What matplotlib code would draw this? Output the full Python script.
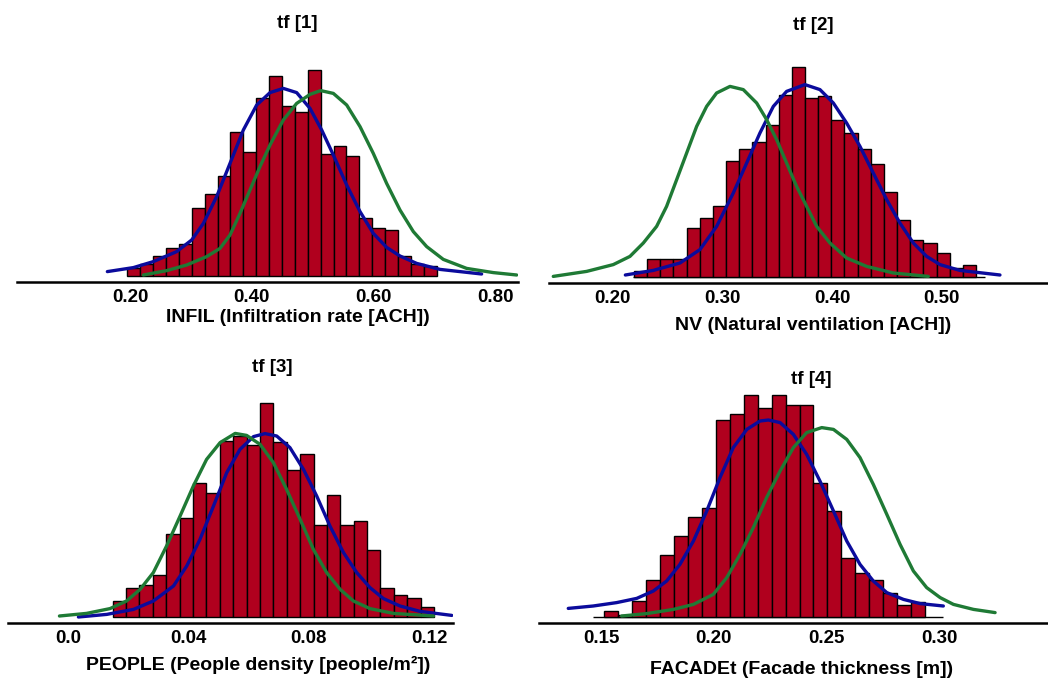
import numpy as np
import matplotlib
matplotlib.use("Agg")
import matplotlib.pyplot as plt

plt.rcParams['font.family'] = ['Liberation Sans', 'DejaVu Sans']
plt.rcParams['font.weight'] = 'bold'

# ---------------- data ----------------
titles = ["tf [1]", "tf [2]", "tf [3]", "tf [4]"]
xlabels = ["INFIL (Infiltration rate [ACH])",
           "NV (Natural ventilation [ACH])",
           "PEOPLE (People density [people/m\u00b2])",
           "FACADEt (Facade thickness [m])"]
tick_values = [[0.20, 0.40, 0.60, 0.80],
               [0.20, 0.30, 0.40, 0.50],
               [0.00, 0.04, 0.08, 0.12],
               [0.15, 0.20, 0.25, 0.30]]
tick_labels = [["0.20", "0.40", "0.60", "0.80"],
               ["0.20", "0.30", "0.40", "0.50"],
               ["0.0", "0.04", "0.08", "0.12"],
               ["0.15", "0.20", "0.25", "0.30"]]

# histogram bins: first edge, bin width, counts
bin_start = [0.1956, 0.2193, 0.0148, 0.1513]
bin_width = [0.02115, 0.01199, 0.00445, 0.006195]
counts1 = [4, 6, 10, 14, 16, 34, 41, 50, 72, 62, 89, 100, 85, 82, 103, 61, 65, 60, 29, 24, 23, 10, 6, 5]
counts2 = [2.8, 9.2, 9.2, 9.2, 24.7, 29.5, 35.7, 57.8, 64.2, 67.3, 76.2, 90.8, 104.8, 89.3, 90.5,
           78.3, 72.0, 64.0, 56.5, 42.3, 28.3, 18.7, 17.0, 12.0, 4.5, 6.0]
counts3 = [8.0, 14.5, 15.8, 20.8, 41.7, 49.3, 67.2, 62.2, 87.8, 90.7, 86.2, 107.2, 87.7, 73.5, 81.5,
           46.2, 60.8, 46.2, 48.0, 33.5, 14.5, 11.2, 9.5, 5.0]
counts4 = [3.0, 1.0, 8.0, 18.5, 31.0, 40.5, 50.0, 54.7, 98.5, 101.3, 111.0, 104.7, 111.0, 106.0, 106.0,
           66.8, 53.0, 29.7, 21.8, 18.5, 12.2, 6.0, 7.7]

# blue curves (posterior fit)
blue1_x = [0.1628, 0.2055, 0.2383, 0.2766, 0.3012, 0.3204, 0.3422, 0.3641, 0.3860, 0.4079, 0.4298, 0.4516,
           0.4735, 0.4954, 0.5146, 0.5337, 0.5556, 0.5775, 0.5993, 0.6212, 0.6431, 0.6705, 0.7088, 0.7771]
blue1_y = [2.2, 4.2, 7.2, 12.2, 18.0, 26.3, 39.7, 56.3, 73.0, 85.5, 91.7, 93.8,
           91.7, 83.8, 73.0, 60.5, 45.5, 32.2, 21.3, 14.3, 10.0, 6.3, 3.3, 1.0]
blue2_x = [0.2114, 0.2369, 0.2612, 0.2794, 0.2946, 0.3098, 0.3220, 0.3341, 0.3463, 0.3584, 0.3751, 0.3888,
           0.4010, 0.4131, 0.4253, 0.4374, 0.4496, 0.4617, 0.4739, 0.4861, 0.4982, 0.5164, 0.5529]
blue2_y = [1.0, 3.3, 7.0, 13.7, 25.3, 42.0, 57.0, 72.0, 85.3, 92.8, 96.2, 93.7,
           87.0, 77.0, 65.3, 52.0, 38.7, 27.0, 17.0, 10.3, 6.2, 3.3, 1.0]
blue3_x = [0.0034, 0.0128, 0.0217, 0.0283, 0.0350, 0.0394, 0.0438, 0.0483, 0.0527, 0.0571, 0.0616, 0.0654,
           0.0693, 0.0737, 0.0782, 0.0826, 0.0870, 0.0915, 0.0959, 0.1003, 0.1048, 0.1103, 0.1170, 0.1275]
blue3_y = [0.0, 1.3, 3.8, 8.0, 15.5, 25.5, 38.8, 55.5, 72.2, 83.8, 90.2, 91.7,
           90.5, 84.7, 73.8, 60.5, 45.5, 32.2, 22.2, 14.7, 9.2, 5.5, 2.8, 0.8]
blue4_x = [0.1353, 0.1464, 0.1568, 0.1657, 0.1731, 0.1790, 0.1849, 0.1909, 0.1968, 0.2027, 0.2086, 0.2146,
           0.2205, 0.2242, 0.2294, 0.2353, 0.2412, 0.2471, 0.2531, 0.2590, 0.2649, 0.2708, 0.2768, 0.2842,
           0.2916, 0.3019]
blue4_y = [4.3, 5.5, 7.2, 9.3, 13.0, 18.0, 26.3, 38.0, 53.0, 69.7, 84.7, 93.8,
           98.0, 98.5, 97.2, 91.3, 81.3, 68.0, 53.0, 38.0, 26.3, 18.0, 12.2, 8.8,
           6.7, 5.5]

# green curves (prior)
green1_x = [0.2219, 0.2602, 0.2930, 0.3258, 0.3477, 0.3641, 0.3805, 0.3969, 0.4133, 0.4298, 0.4516, 0.4735,
            0.4954, 0.5129, 0.5337, 0.5556, 0.5775, 0.5993, 0.6212, 0.6431, 0.6650, 0.6869, 0.7142, 0.7525,
            0.7963, 0.8346]
green1_y = [0.5, 2.7, 5.5, 9.7, 13.8, 20.5, 31.3, 43.0, 54.7, 65.5, 78.0, 86.3,
            90.8, 92.7, 91.3, 85.5, 74.7, 61.3, 46.3, 33.0, 22.2, 14.7, 8.3, 3.8,
            1.7, 0.5]
green2_x = [0.1457, 0.1761, 0.2004, 0.2156, 0.2278, 0.2399, 0.2490, 0.2582, 0.2673, 0.2764, 0.2855, 0.2946,
            0.3068, 0.3189, 0.3311, 0.3402, 0.3493, 0.3584, 0.3675, 0.3767, 0.3858, 0.3979, 0.4131, 0.4314,
            0.4557, 0.4876]
green2_y = [0.3, 2.8, 6.2, 10.3, 17.0, 25.3, 35.3, 48.7, 62.0, 75.3, 85.3, 92.0,
            95.3, 93.7, 87.0, 78.7, 68.7, 57.0, 45.3, 35.3, 25.3, 17.0, 9.5, 5.3,
            2.0, 0.3]
green3_x = [-0.0029, 0.0061, 0.0139, 0.0194, 0.0239, 0.0283, 0.0327, 0.0372, 0.0416, 0.0460, 0.0505, 0.0555,
            0.0593, 0.0638, 0.0682, 0.0726, 0.0771, 0.0815, 0.0859, 0.0904, 0.0948, 0.1003, 0.1081, 0.1214]
green3_y = [0.5, 1.8, 4.2, 8.0, 13.8, 22.2, 35.5, 50.5, 65.5, 78.8, 87.2, 91.8,
            90.8, 86.3, 77.2, 63.8, 48.8, 33.8, 22.2, 13.8, 8.0, 4.2, 1.8, 0.5]
green4_x = [0.1590, 0.1701, 0.1820, 0.1909, 0.1997, 0.2057, 0.2116, 0.2175, 0.2234, 0.2294, 0.2353, 0.2412,
            0.2479, 0.2531, 0.2590, 0.2649, 0.2708, 0.2768, 0.2827, 0.2886, 0.2945, 0.3005, 0.3064, 0.3153,
            0.3249]
green4_y = [0.5, 1.7, 3.8, 6.3, 11.3, 19.7, 31.3, 44.7, 59.7, 73.0, 84.7, 92.2,
            94.7, 93.8, 88.8, 79.7, 66.3, 51.3, 36.3, 23.0, 14.7, 9.7, 6.3, 3.8,
            2.2]

counts = [counts1, counts2, counts3, counts4]
blues = [(blue1_x, blue1_y), (blue2_x, blue2_y), (blue3_x, blue3_y), (blue4_x, blue4_y)]
greens = [(green1_x, green1_y), (green2_x, green2_y), (green3_x, green3_y), (green4_x, green4_y)]

# ---------------- layout (pixels) ----------------
W, H = 1048, 681
# left px, right px, spine y px
panel_px = [(17, 518, 282), (549, 1048, 283), (8, 453, 623), (539, 1048, 623)]
xlims = [(0.0145, 0.8368), (0.1418, 0.5967), (-0.020, 0.1279), (0.1223, 0.3484)]
title_px = [(297, 23), (813, 26), (272, 367), (811, 379)]
xlabel_px = [(298, 318), (813, 325), (258, 665), (802, 670)]
base_line = [False, True, False, True]
AX_H = 232
YLIM = (-3, 113)

BAR_COLOR = "#B0001E"
BLUE = "#0B0B9C"
GREEN = "#1F7A35"

fig = plt.figure(figsize=(W / 100, H / 100), dpi=100)

for i in range(4):
    l, r, sy = panel_px[i]
    ax = fig.add_axes([l / W, 1 - sy / H, (r - l) / W, AX_H / H])
    ax.set_xlim(*xlims[i])
    ax.set_ylim(*YLIM)
    n = len(counts[i])
    edges = bin_start[i] + bin_width[i] * np.arange(n)
    ax.bar(edges, counts[i], width=bin_width[i], align='edge', color=BAR_COLOR,
           edgecolor='black', linewidth=1.0, zorder=2)
    if base_line[i]:
        x0 = bin_start[i] - (0.8 if i == 3 else 0.05) * bin_width[i]
        x1 = bin_start[i] + bin_width[i] * (n + (1.3 if i == 3 else 0.7))
        ax.hlines(0, x0, x1, color='black', linewidth=1.0, zorder=1)
    ax.plot(*blues[i], color=BLUE, lw=2.4, solid_capstyle='round', solid_joinstyle='round', zorder=3)
    ax.plot(*greens[i], color=GREEN, lw=2.4, solid_capstyle='round', solid_joinstyle='round', zorder=3)

    for s in ['top', 'right', 'left']:
        ax.spines[s].set_visible(False)
    ax.spines['bottom'].set_linewidth(1.8)
    ax.set_yticks([])
    ax.set_xticks(tick_values[i])
    ax.set_xticklabels(tick_labels[i], fontsize=13.5, fontweight='bold')
    ax.tick_params(axis='x', length=0, pad=5)
    ax.patch.set_alpha(0)

    xl, yl = xlabel_px[i]
    ax.set_xlabel(xlabels[i], fontsize=14, fontweight='bold')
    ax.xaxis.label.set_va('center')
    ax.xaxis.set_label_coords((xl - l) / (r - l), -(yl - sy) / AX_H)

    tx, ty = title_px[i]
    fig.text(tx / W, 1 - ty / H, titles[i], ha='center', va='center',
             fontsize=13.5, fontweight='bold')

fig.savefig("out.png", dpi=100)
